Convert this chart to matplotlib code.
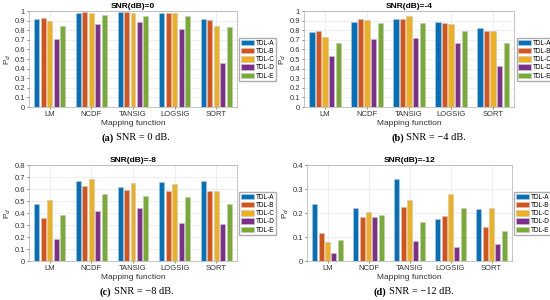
import numpy as np
import matplotlib.pyplot as plt

functions = ["LM", "NCDF", "TANSIG", "LOGSIG", "SORT"]
series = ["TDL-A", "TDL-B", "TDL-C", "TDL-D", "TDL-E"]
colors = ["#0072BD", "#D95319", "#EDB120", "#7E2F8E", "#77AC30"]

# rows: mapping function, columns: TDL-A..TDL-E
pd_snr0 = [[0.92, 0.93, 0.90, 0.71, 0.84],
           [0.98, 0.99, 0.98, 0.865, 0.955],
           [0.985, 0.985, 0.98, 0.885, 0.945],
           [0.975, 0.975, 0.975, 0.81, 0.945],
           [0.92, 0.91, 0.84, 0.46, 0.83]]
pd_snr4 = [[0.78, 0.79, 0.73, 0.53, 0.67],
           [0.89, 0.915, 0.905, 0.71, 0.87],
           [0.92, 0.915, 0.945, 0.72, 0.88],
           [0.885, 0.87, 0.86, 0.665, 0.79],
           [0.82, 0.795, 0.79, 0.425, 0.67]]
pd_snr8 = [[0.475, 0.36, 0.505, 0.185, 0.38],
           [0.67, 0.625, 0.68, 0.42, 0.56],
           [0.62, 0.595, 0.65, 0.445, 0.545],
           [0.655, 0.585, 0.64, 0.32, 0.535],
           [0.665, 0.58, 0.58, 0.305, 0.475]]
pd_snr12 = [[0.237, 0.115, 0.078, 0.033, 0.087],
            [0.22, 0.183, 0.203, 0.185, 0.193],
            [0.34, 0.226, 0.253, 0.082, 0.161],
            [0.175, 0.187, 0.278, 0.06, 0.22],
            [0.217, 0.14, 0.22, 0.072, 0.125]]

titles = ["SNR(dB)=0", "SNR(dB)=-4", "SNR(dB)=-8", "SNR(dB)=-12"]
captions = [("(a)", "SNR = 0 dB."), ("(b)", "SNR = \u22124 dB."),
            ("(c)", "SNR = \u22128 dB."), ("(d)", "SNR = \u221212 dB.")]
ylims = [1.0, 1.0, 0.8, 0.4]
datasets = [pd_snr0, pd_snr4, pd_snr8, pd_snr12]

W, H = 550, 300
# axes boxes in pixels: left, top, right, bottom
boxes = [(29, 11, 237, 107), (304, 11, 514, 107),
         (29, 165, 237, 261), (307, 165, 512, 261)]
# caption: x where the bold label ends, y centre
caption_pos = [(114, 138), (404, 138), (111, 292), (386, 292)]

plt.rcParams['font.family'] = ['Liberation Sans', 'DejaVu Sans']
fig = plt.figure(figsize=(5.5, 3.0), dpi=100)

x = np.arange(len(functions))
bw = 0.12
step = 0.155
for k in range(4):
    l, t, r, b = boxes[k]
    ax = fig.add_axes([l / W, 1 - b / H, (r - l) / W, (b - t) / H])
    data = np.array(datasets[k])
    for j in range(len(series)):
        ax.bar(x + (j - 2) * step, data[:, j], bw, color=colors[j],
               edgecolor="#c8c8c8", linewidth=0.4, label=series[j], zorder=3)
    ax.set_xlim(-0.5, len(functions) - 0.5)
    ax.set_ylim(0, ylims[k])
    ticks = np.round(np.arange(0, ylims[k] + 0.001, 0.1), 1)
    ax.set_yticks(ticks)
    ax.set_yticklabels(["%g" % v for v in ticks])
    ax.set_xticks(x)
    ax.set_xticklabels(functions)
    ax.tick_params(labelsize=5.5, length=1.5, width=0.4, pad=1.5, colors="#333333")
    ax.grid(True, color="#e4e4e4", linewidth=0.4, zorder=0)
    for s in ax.spines.values():
        s.set_linewidth(0.4)
        s.set_color("#999999")
    ax.set_title(titles[k], fontsize=6, fontweight="bold", pad=2)
    ax.set_xlabel("Mapping function", fontsize=6, labelpad=1, color="#333333")
    ax.set_ylabel("P$_d$", fontsize=6, labelpad=1, color="#333333")
    ax.legend(loc="upper left", bbox_to_anchor=(1.012, 0.72), fontsize=4.7,
              frameon=True, fancybox=False, edgecolor="#999999",
              handlelength=2.0, handleheight=0.9, borderpad=0.25,
              labelspacing=0.2, handletextpad=0.2, borderaxespad=0)
    cx, cy = caption_pos[k]
    fig.text(cx / W, 1 - cy / H, captions[k][0], fontsize=7.5, fontweight="bold",
             family="Liberation Serif", ha="right", va="center")
    fig.text((cx + 2.5) / W, 1 - cy / H, captions[k][1], fontsize=7.5,
             family="Liberation Serif", ha="left", va="center")

fig.savefig("out.png", dpi=100)
